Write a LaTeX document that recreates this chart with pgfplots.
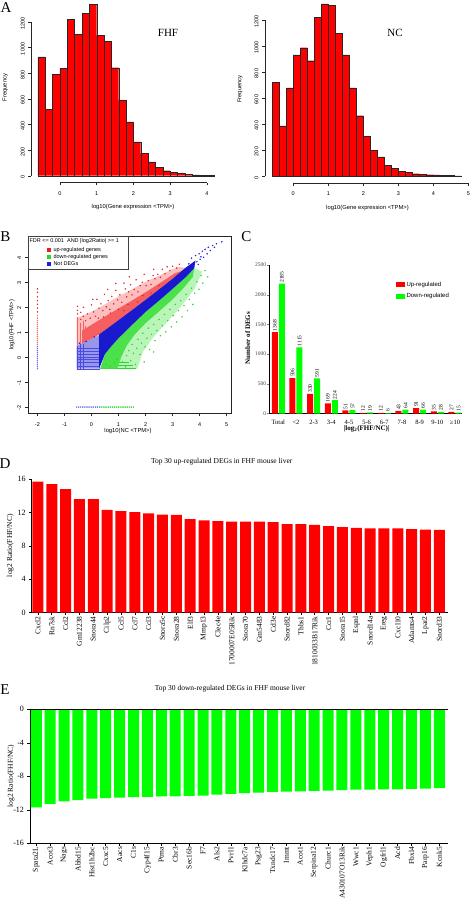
\documentclass[border=0pt]{standalone}
\usepackage{fontspec}
\setmainfont{Liberation Serif}
\newfontfamily\arial{Liberation Sans}
\usepackage{pgfplots}
\pgfplotsset{compat=1.18}
\newcommand{\sz}[1]{\fontsize{#1}{#1}\selectfont}
\definecolor{hred}{RGB}{255,0,0}
\definecolor{bgreen}{RGB}{0,255,0}
\definecolor{dblue}{RGB}{25,25,205}
\definecolor{lblue}{RGB}{150,150,235}
\definecolor{sblue}{RGB}{110,110,235}
\definecolor{mred}{RGB}{245,95,95}
\definecolor{sred}{RGB}{240,110,110}
\definecolor{lred}{RGB}{252,190,190}
\definecolor{mgreen}{RGB}{75,225,75}
\definecolor{lgreen}{RGB}{185,245,185}
\definecolor{dotred}{RGB}{225,35,35}
\definecolor{dotgreen}{RGB}{40,215,40}
\definecolor{dotblue}{RGB}{30,30,220}
\pgfplotsset{
  every axis/.append style={/pgf/number format/1000 sep={}, scaled ticks=false, /pgf/number format/assume math mode=true},
  rstyle/.style={scale only axis, anchor=south west, axis line style={draw=none}, tick align=outside, tick pos=left,
    major tick length=2.7pt, tick style={black!85, line width=0.4pt}, clip=false,
    ticklabel style={font=\arial\sz{5.5}},
    yticklabel style={rotate=90, anchor=south, xshift=-1.5pt},
    xticklabel style={yshift=-2.5pt}},
  gstyle/.style={scale only axis, anchor=south west, axis x line*=bottom, axis y line*=left,
    axis line style={-, line width=0.7pt}, tick align=outside, major tick length=2.5pt,
    tick style={line width=0.6pt, black}, ybar, bar width=11pt, xmin=-0.45, xmax=29.65,
    xtick={0,...,29}, yticklabel style={font=\sz{8}},
    xticklabel style={rotate=90, anchor=east, font=\sz{7.5}, inner sep=1pt}, clip=false},
  dots/.style={only marks, mark=*, mark size=0.5pt, color=#1},
}
\begin{document}
\begin{tikzpicture}
\useasboundingbox (0pt,0pt) rectangle (472pt,-900pt);

% ---------------- Panel A, FHF
\begin{axis}[rstyle, at={(30.9pt,-182.6pt)}, width=190.3pt, height=185.4pt,
  xmin=-0.792, xmax=4.392, ymin=-53.5, ymax=1391.5, xtick={0,1,2,3,4}, ytick={0,200,...,1200}]
\addplot[ybar interval, fill=hred, draw=black!85, line width=0.35pt] coordinates {
(-0.6,927) (-0.4,520) (-0.2,790) (0,837) (0.2,1219) (0.4,1104) (0.6,1266) (0.8,1338)
(1.0,1094) (1.2,1050) (1.4,842) (1.6,588) (1.8,419) (2.0,263) (2.2,175) (2.4,109)
(2.6,65) (2.8,39) (3.0,26) (3.2,18) (3.4,10) (3.6,7) (3.8,5) (4.0,4) (4.2,0)};
\draw[black!85, line width=0.4pt] (axis cs:0,-53.5) -- (axis cs:4,-53.5);
\draw[black!85, line width=0.4pt] (axis cs:-0.792,0) -- (axis cs:-0.792,1200);
\end{axis}

% ---------------- Panel A, NC
\begin{axis}[rstyle, at={(264.7pt,-182.9pt)}, width=204.2pt, height=185.8pt,
  xmin=-0.816, xmax=5.016, ymin=-52.9, ymax=1375.9, xtick={0,1,2,3,4,5}, ytick={0,200,...,1200}]
\addplot[ybar interval, fill=hred, draw=black!85, line width=0.35pt] coordinates {
(-0.6,720) (-0.4,385) (-0.2,677) (0,931) (0.2,987) (0.4,887) (0.6,1221) (0.8,1323)
(1.0,1310) (1.2,1098) (1.4,931) (1.6,677) (1.8,464) (2.0,305) (2.2,195) (2.4,148)
(2.6,84) (2.8,59) (3.0,38) (3.2,26) (3.4,18) (3.6,13) (3.8,10) (4.0,8) (4.2,5) (4.4,3) (4.6,2) (4.8,0)};
\draw[black!85, line width=0.4pt] (axis cs:0,-52.9) -- (axis cs:5,-52.9);
\draw[black!85, line width=0.4pt] (axis cs:-0.816,0) -- (axis cs:-0.816,1200);
\end{axis}

\node[font=\sz{15}] at (6pt,-7.5pt) {A};
\node[font=\sz{11}] at (168pt,-33pt) {FHF};
\node[font=\sz{11}] at (395pt,-33pt) {NC};
\node[font=\arial\sz{5.8}] at (133pt,-207pt) {log10(Gene expression <TPM>)};
\node[font=\arial\sz{5.8}] at (367.5pt,-207.5pt) {log10(Gene expression <TPM>)};
\node[font=\arial\sz{5.8}, rotate=90] at (5.3pt,-87.5pt) {Frequency};
\node[font=\arial\sz{5.8}, rotate=90] at (240pt,-89pt) {Frequency};

% ---------------- Panel B
\begin{axis}[scale only axis, anchor=south west, at={(27.7pt,-413.3pt)}, width=203pt, height=177.3pt,
  xmin=-2.36, xmax=5.15, ymin=-2.25, ymax=4.83,
  axis line style={black!85, line width=0.4pt}, tick align=outside, tick pos=left,
  major tick length=3pt, tick style={black!85, line width=0.4pt},
  xtick={-2,...,5}, ytick={-2,...,4},
  ticklabel style={font=\arial\sz{5.5}},
  yticklabel style={rotate=90, anchor=south, xshift=-1.2pt},
  xticklabel style={yshift=-2.5pt}]
% faint outer clouds
\addplot[fill=lred, draw=none] coordinates {(-0.55,0.45) (0.0,0.72) (0.28,0.9) (0.5,1.07) (1.0,1.47) (1.5,1.87) (2.0,2.28) (2.5,2.7) (3.0,3.12) (3.5,3.55) (3.2,3.6) (2.6,3.3) (2.0,3.0) (1.5,2.7) (1.0,2.42) (0.5,2.1) (0.0,1.8) (-0.55,1.55)} --cycle;
\addplot[fill=lgreen, draw=none] coordinates {(0.32,-0.47) (1.0,0.75) (2.0,1.8) (3.0,2.72) (3.8,3.55) (4.1,3.4) (3.8,2.7) (3.3,2.0) (2.8,1.4) (2.3,0.8) (1.9,0.2) (1.7,-0.47)} --cycle;
% light blue low-expression block with stripes
\addplot[fill=lblue, draw=none] coordinates {(-0.55,-0.47) (0.3,-0.47) (0.3,0.88) (0.0,0.72) (-0.55,0.45)} --cycle;
\addplot[dotblue!80, line width=0.45pt] coordinates {(-0.55,-0.47) (0.3,-0.47)};
\addplot[dotblue!80, line width=0.45pt] coordinates {(-0.55,-0.35) (0.3,-0.35)};
\addplot[dotblue!80, line width=0.45pt] coordinates {(-0.55,-0.23) (0.3,-0.23)};
\addplot[dotblue!80, line width=0.45pt] coordinates {(-0.55,-0.11) (0.3,-0.11)};
\addplot[dotblue!80, line width=0.45pt] coordinates {(-0.55,0.0) (0.3,0.0)};
\addplot[dotblue!80, line width=0.45pt] coordinates {(-0.55,0.12) (0.3,0.12)};
\addplot[dotblue!80, line width=0.45pt] coordinates {(-0.55,0.24) (0.3,0.24)};
\addplot[dotblue!80, line width=0.45pt] coordinates {(-0.55,0.36) (0.3,0.36)};
\addplot[dotblue!80, line width=0.45pt] coordinates {(-0.52,-0.47) (-0.52,0.45)};
\addplot[dotblue!80, line width=0.45pt] coordinates {(-0.40,-0.47) (-0.40,0.5)};
\addplot[dotblue!80, line width=0.45pt] coordinates {(-0.30,-0.47) (-0.30,0.53)};
% red vertical stripes
\addplot[mred, line width=0.5pt] coordinates {(-0.52,0.48) (-0.52,1.6)};
\addplot[mred, line width=0.5pt] coordinates {(-0.40,0.52) (-0.40,1.35)};
\addplot[mred, line width=0.5pt] coordinates {(-0.30,0.55) (-0.30,1.45)};
\addplot[mred, line width=0.5pt] coordinates {(-0.22,0.6) (-0.22,1.25)};
% green low stripes
\addplot[dotgreen, line width=0.5pt] coordinates {(0.3,-0.47) (1.65,-0.47)};
\addplot[dotgreen, line width=0.5pt] coordinates {(0.45,-0.35) (1.55,-0.35)};
\addplot[dotgreen, line width=0.5pt] coordinates {(0.55,-0.23) (1.4,-0.23)};
% dense regions
\addplot[fill=mgreen, draw=none] coordinates {(0.32,-0.47) (0.5,0.12) (0.75,0.45) (1.0,0.75) (1.5,1.28) (2.0,1.8) (2.5,2.25) (3.0,2.72) (3.5,3.2) (3.8,3.55) (3.75,3.2) (3.4,2.75) (3.0,2.3) (2.5,1.82) (2.0,1.35) (1.6,0.9) (1.3,0.45) (1.1,0.0) (0.95,-0.47)} --cycle;
\addplot[fill=mred, draw=none] coordinates {(-0.35,0.55) (0.0,0.72) (0.28,0.9) (0.5,1.07) (1.0,1.47) (1.5,1.87) (2.0,2.28) (2.5,2.7) (3.0,3.12) (3.4,3.45) (3.1,3.35) (2.6,3.0) (2.1,2.65) (1.6,2.32) (1.1,2.0) (0.6,1.68) (0.1,1.35) (-0.35,1.05)} --cycle;
\addplot[fill=dblue, draw=none] coordinates {(0.28,-0.47) (0.5,0.12) (0.75,0.45) (1.0,0.75) (1.5,1.28) (2.0,1.8) (2.5,2.25) (3.0,2.72) (3.5,3.2) (3.8,3.55) (3.85,3.85) (3.5,3.58) (3.0,3.12) (2.5,2.7) (2.0,2.28) (1.5,1.87) (1.0,1.47) (0.5,1.07) (0.28,0.9)} --cycle;
% x = -2 column and y = -2 row (genes absent in one sample)
\addplot[dots=sred] coordinates {(-2,0.50) (-2,0.58) (-2,0.66) (-2,0.74) (-2,0.82) (-2,0.90) (-2,0.98) (-2,1.06) (-2,1.14) (-2,1.22) (-2,1.30) (-2,1.38) (-2,1.46) (-2,1.55) (-2,1.65)};
\addplot[dots=sblue] coordinates {(-2,-0.47) (-2,-0.39) (-2,-0.31) (-2,-0.23) (-2,-0.15) (-2,-0.07) (-2,0.01) (-2,0.09) (-2,0.17) (-2,0.25) (-2,0.33) (-2,0.41)};
\addplot[dots=sblue] coordinates {(-0.55,-2) (-0.48,-2) (-0.41,-2) (-0.34,-2) (-0.27,-2) (-0.2,-2) (-0.13,-2) (-0.06,-2) (0.01,-2) (0.08,-2) (0.15,-2) (0.22,-2) (0.29,-2)};
\addplot[dots=dotgreen] coordinates {(0.36,-2) (0.43,-2) (0.5,-2) (0.57,-2) (0.64,-2) (0.71,-2) (0.78,-2) (0.85,-2) (0.92,-2) (0.99,-2) (1.06,-2) (1.13,-2) (1.2,-2) (1.27,-2) (1.34,-2) (1.41,-2) (1.48,-2) (1.55,-2)};
% sparse points
\addplot[dots=dotred] coordinates {
(-0.52,1.72) (-0.52,1.86) (-0.52,2.02) (-0.4,1.5) (-0.4,1.78) (-0.3,1.62) (-0.3,1.98) (-0.22,1.45)
(-0.15,1.72) (-0.05,1.55) (0.0,2.08) (0.08,1.8) (0.15,1.62) (0.2,2.3) (0.28,1.95) (0.35,2.12)
(0.42,1.85) (0.48,2.5) (0.55,2.0) (0.62,2.25) (0.68,1.9) (0.75,2.42) (0.82,2.12) (0.9,2.66)
(0.97,2.28) (1.05,2.48) (1.12,2.18) (1.2,2.95) (1.25,2.72) (1.3,2.4) (1.38,2.6) (1.45,2.88)
(1.5,2.48) (1.58,2.7) (1.65,3.08) (1.72,2.6) (1.8,2.85) (1.88,2.98) (1.95,3.3) (2.02,2.85)
(2.1,3.05) (2.2,2.9) (2.28,3.25) (2.35,3.12) (2.45,3.3) (2.55,3.18) (2.62,3.5) (2.72,3.32)
(2.8,3.6) (2.9,3.45) (3.0,3.62) (3.15,3.55) (0.9,2.94) (0.6,2.7) (0.05,2.3) (1.4,3.2) (2.3,3.5) (3.25,3.7)
(0.25,1.55) (0.45,1.6) (0.7,1.75) (1.0,1.9) (1.2,1.85) (1.35,2.1) (1.7,2.2) (1.9,2.45) (2.2,2.55) (2.5,2.85)
(-2,1.8) (-2,1.95) (-2,2.1) (-2,2.25) (-2,2.4) (-2,2.58) (-2,2.72)};
\addplot[dots=dotgreen] coordinates {
(0.55,-0.3) (0.7,-0.38) (0.85,-0.25) (0.95,-0.1) (1.05,-0.35) (1.15,-0.2) (1.25,-0.4) (1.3,0.05)
(1.38,0.25) (1.45,-0.15) (1.5,0.5) (1.55,0.15) (1.62,-0.3) (1.68,0.35) (1.72,0.7) (1.8,0.1)
(1.85,0.55) (1.9,0.95) (1.98,0.4) (2.05,0.75) (2.1,1.15) (2.15,0.3) (2.22,0.9) (2.3,1.3)
(2.35,0.65) (2.42,1.05) (2.5,1.5) (2.55,0.85) (2.62,1.25) (2.7,1.7) (2.75,1.0) (2.82,1.45)
(2.9,1.9) (2.95,1.2) (3.02,1.65) (3.1,2.1) (3.15,1.4) (3.22,1.85) (3.3,2.25) (3.35,1.6)
(3.42,2.05) (3.5,2.5) (3.55,1.85) (3.62,2.3) (3.7,2.75) (3.75,2.1) (3.82,2.55) (3.9,3.0)
(3.98,2.7) (4.05,3.25) (4.12,2.95) (4.2,3.45) (1.95,-0.2) (2.3,0.2) (4.3,3.2)};
\addplot[dots=dotblue] coordinates {
(3.6,3.72) (3.7,3.95) (3.78,3.62) (3.85,4.05) (3.9,3.8) (3.98,4.12) (4.02,3.9) (4.1,4.22)
(4.15,3.98) (4.2,4.3) (4.28,4.12) (4.32,4.38) (4.4,4.25) (4.48,4.45) (4.55,4.38) (4.62,4.52)
(4.82,4.6) (3.95,3.7) (4.05,4.0) (3.65,3.45) (3.72,3.5) (-0.45,0.55) (-0.2,0.62) (0.1,0.8)};
\end{axis}
% legend of B
\filldraw[fill=white, draw=black!75, line width=0.4pt] (27.7pt,-236pt) rectangle (128.3pt,-269.3pt);
\node[font=\arial\sz{5.5}, anchor=west, inner sep=0pt] at (29.3pt,-240.8pt) {FDR <= 0.001\ \ AND |log2Ratio| >= 1};
\fill[dotred] (47.3pt,-248.3pt) rectangle (50.8pt,-251.8pt);
\fill[dotgreen] (47.3pt,-255.3pt) rectangle (50.8pt,-258.8pt);
\fill[dotblue] (47.3pt,-262.3pt) rectangle (50.8pt,-265.8pt);
\node[font=\arial\sz{5.5}, anchor=west, inner sep=0pt] at (53.3pt,-250pt) {up-regulated genes};
\node[font=\arial\sz{5.5}, anchor=west, inner sep=0pt] at (53.3pt,-257pt) {down-regulated genes};
\node[font=\arial\sz{5.5}, anchor=west, inner sep=0pt] at (53.3pt,-264pt) {Not DEGs};
\node[font=\sz{15}] at (5.5pt,-237pt) {B};
\node[font=\arial\sz{5.8}, rotate=90] at (12pt,-325pt) {log10(FHF <TPM>)};
\node[font=\arial\sz{5.8}] at (128pt,-430.5pt) {log10(NC <TPM>)};

% ---------------- Panel C
\begin{axis}[scale only axis, anchor=south west, at={(269.3pt,-413.5pt)}, width=192.4pt, height=148.5pt,
  xmin=-0.51, xmax=10.38, ymin=0, ymax=2500, axis x line*=bottom, axis y line*=left,
  axis line style={-, line width=0.6pt}, ybar=1pt, bar width=6pt,
  xtick={0,...,10}, xticklabels={Total,<2,2-3,3-4,4-5,5-6,6-7,7-8,8-9,9-10,≥10},
  ytick={0,500,...,2500}, tick align=outside, major tick length=2pt, xtick style={draw=none},
  yticklabel style={font=\sz{5.5}, text=black!75, inner sep=1pt},
  xticklabel style={font=\sz{6.5}, yshift=-1pt},
  nodes near coords, every node near coord/.append style={rotate=90, anchor=west, font=\sz{5.5}, inner sep=1pt},
  legend style={at={(0.655,0.9)}, anchor=north west, draw=none, fill=none, font=\arial\sz{6}, inner sep=0pt, row sep=1.5pt},
  legend cell align=left,
  legend image code/.code={\draw[#1, draw=none] (0pt,-2.5pt) rectangle (9pt,2.5pt);},
  clip=false]
\addplot[fill=hred, draw=none] coordinates {(0,1368) (1,596) (2,330) (3,169) (4,51) (5,12) (6,12) (7,43) (8,91) (9,35) (10,27)};
\addplot[fill=bgreen, draw=none] coordinates {(0,2185) (1,1115) (2,591) (3,224) (4,57) (5,19) (6,6) (7,64) (8,66) (9,28) (10,15)};
\addlegendentry{Up-regulated}
\addlegendentry{Down-regulated}
\end{axis}
\node[font=\sz{15}] at (246.5pt,-237pt) {C};
\node[font=\bfseries\sz{7}, rotate=90] at (247.7pt,-338pt) {Number of DEGs};
\node[font=\bfseries\sz{7}] at (366.7pt,-429pt) {|log\textsubscript{2}(FHF/NC)|};

% ---------------- Panel D
\begin{axis}[gstyle, at={(31.7pt,-612.7pt)}, width=416.6pt, height=133.7pt, ymin=0, ymax=16, ytick={0,4,...,16},
  xticklabels={Cxcl2,Rn7sk,Ccl2,Gm12238,Snora44,Cilp2,Ccl5,Ccl7,Ccl3,Snora5c,Snora28,Elf3,Mmp13,Clec4e,1700007E05Rik,Snora70,Gm5483,Cd3e,Snord82,Thbs1,1810033B17Rik,Ccr1,Snora15,Espnl,Snord14a,Ereg,Cxcl10,Adamts4,Lpar2,Snord33}]
\addplot[fill=hred, draw=none] coordinates {
(0,15.7) (1,15.4) (2,14.8) (3,13.6) (4,13.6) (5,12.3) (6,12.15) (7,12.05) (8,11.9) (9,11.75)
(10,11.7) (11,11.2) (12,11.05) (13,10.95) (14,10.9) (15,10.9) (16,10.9) (17,10.85) (18,10.6) (19,10.6)
(20,10.5) (21,10.35) (22,10.25) (23,10.15) (24,10.1) (25,10.1) (26,10.1) (27,10.0) (28,9.95) (29,9.9)};
\end{axis}
\node[font=\sz{15}] at (5pt,-463.5pt) {D};
\node[font=\sz{7.5}] at (221.7pt,-461.7pt) {Top 30 up-regulated DEGs in FHF mouse liver};
\node[font=\sz{7.5}, rotate=90] at (10.3pt,-545.7pt) {log2 Ratio(FHF/NC)};

% ---------------- Panel E
\begin{axis}[gstyle, at={(30pt,-843.3pt)}, width=418.3pt, height=134pt, ymin=-16, ymax=0, ytick={-16,-12,...,0},
  xticklabels={Spata2L,Acot3,Nags,Abhd15,Hist1h2bc,Cxxc5,Aacs,C1s,Cyp4f15,Ptma,Cbr3,Sec16b,F7,Als2,Pvrl1,Klhdc7a,Psg23,Txndc17,Immt,Acot1,Serpina12,Churc1,A430107O13Rik,Wwc1,Veph1,Ogfrl1,Acd,Fbxl4,Parp16,Kcnk5}]
\addplot[fill=bgreen, draw=none] coordinates {
(0,-11.7) (1,-11.3) (2,-11.0) (3,-10.85) (4,-10.65) (5,-10.6) (6,-10.55) (7,-10.5) (8,-10.45) (9,-10.4)
(10,-10.4) (11,-10.35) (12,-10.3) (13,-10.2) (14,-10.1) (15,-10.0) (16,-9.95) (17,-9.87) (18,-9.83) (19,-9.8)
(20,-9.75) (21,-9.72) (22,-9.65) (23,-9.6) (24,-9.58) (25,-9.57) (26,-9.55) (27,-9.5) (28,-9.48) (29,-9.42)};
\draw[line width=0.7pt] (axis cs:-0.45,0) -- (axis cs:29.65,0);
\end{axis}
\node[font=\sz{15}] at (5pt,-690pt) {E};
\node[font=\sz{7.5}] at (230pt,-688.3pt) {Top 30 down-regulated DEGs in FHF mouse liver};
\node[font=\sz{7.5}, rotate=90] at (11pt,-776pt) {log2 Ratio(FHF/NC)};
\end{tikzpicture}
\end{document}
